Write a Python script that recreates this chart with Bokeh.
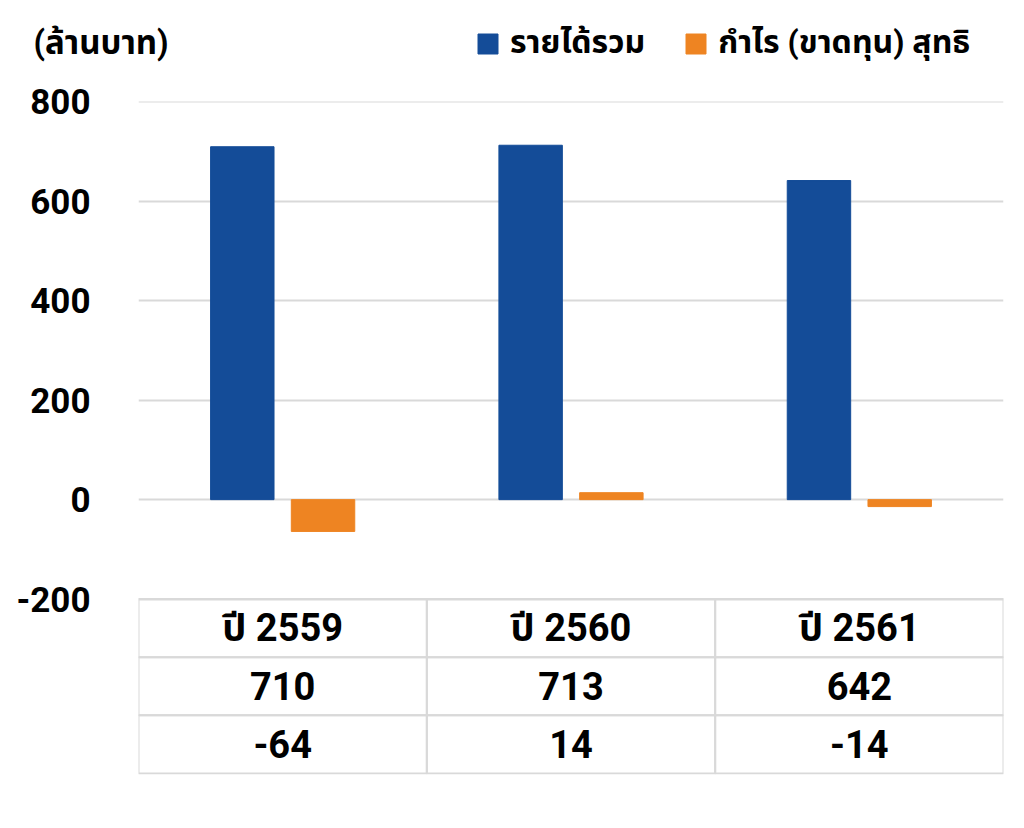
from bokeh.plotting import figure
from bokeh.models import (FactorRange, Range1d, FixedTicker, Legend, LegendItem,
                          Label, ColumnDataSource)
from bokeh.layouts import column
from bokeh.transform import dodge
from bokeh.core.properties import value
from bokeh.embed import file_html
from bokeh.resources import INLINE

# ---- data ----
years = ["ปี 2559", "ปี 2560", "ปี 2561"]
revenue = [710, 713, 642]
net_profit = [-64, 14, -14]
revenue_text = ["710", "713", "642"]
profit_text = ["-64", "14", "-14"]
y_ticks = [-200, 0, 200, 400, 600, 800]
y_tick_labels = ["-200", "0", "200", "400", "600", "800"]
series_names = ["รายได้รวม", "กำไร (ขาดทุน) สุทธิ"]
unit_label = "(ล้านบาท)"

BLUE = "#144C98"
ORANGE = "#EE8422"
GRID = "#D9D9D9"
FONT = "Roboto, 'Noto Sans Thai', sans-serif"

W = 1015
HEAD_H = 81

# table layout (in y-axis units, the table hangs below the lowest tick)
ROW_H = 117
TABLE_TOP = y_ticks[0]
TABLE_BOTTOM = TABLE_TOP - 3 * ROW_H

src = ColumnDataSource(dict(year=years, rev=revenue, prof=net_profit))

# ---- header: unit caption + legend (own canvas, frame = whole canvas) ----
h = figure(x_range=Range1d(0, W), y_range=Range1d(0, HEAD_H),
           frame_width=W, frame_height=HEAD_H,
           min_border_left=0, min_border_right=0, min_border_top=0, min_border_bottom=0,
           x_axis_location=None, y_axis_location=None, frame_align=False,
           output_backend="svg", toolbar_location=None)
h.grid.visible = False
h.outline_line_color = None
l1 = h.vbar(x="rev", top="rev", width=1, source=src, fill_color=BLUE, line_color=BLUE,
            visible=False)
l2 = h.vbar(x="rev", top="rev", width=1, source=src, fill_color=ORANGE, line_color=ORANGE,
            visible=False)
legend = Legend(items=[LegendItem(label=series_names[0], renderers=[l1]),
                       LegendItem(label=series_names[1], renderers=[l2])],
                orientation="horizontal", location=(475, 14),
                glyph_width=25, glyph_height=25, label_standoff=10, spacing=38,
                padding=0, margin=0, border_line_color=None, background_fill_alpha=0,
                inactive_fill_alpha=0,
                label_text_font=FONT, label_text_font_size="32px",
                label_text_font_style="bold", label_text_color="#000000")
h.add_layout(legend, "center")
h.add_layout(Label(x=33, y=HEAD_H - 42, text=unit_label,
                   text_font=FONT, text_font_size="33px", text_font_style="bold",
                   text_baseline="middle", text_align="left", text_color="#000000"))

# ---- main chart with data table below ----
xr = FactorRange(*years)
p = figure(x_range=xr, y_range=Range1d(TABLE_BOTTOM - 2, y_ticks[-1] + 1),
           frame_width=865, frame_height=673,
           min_border_left=138, min_border_right=12, min_border_top=20, min_border_bottom=20,
           x_axis_location=None, frame_align=False,
           output_backend="svg", toolbar_location=None)

r1 = p.vbar(x=dodge("year", -0.14, range=xr), top="rev", bottom=0, width=0.22,
            source=src, fill_color=BLUE, line_color=BLUE)
r2 = p.vbar(x=dodge("year", 0.14, range=xr), top="prof", bottom=0, width=0.22,
            source=src, fill_color=ORANGE, line_color=ORANGE)

p.yaxis.ticker = FixedTicker(ticks=y_ticks)
p.yaxis.major_label_overrides = dict(zip(y_ticks, y_tick_labels))
p.yaxis.axis_line_color = None
p.yaxis.major_tick_line_color = None
p.yaxis.minor_tick_line_color = None
p.yaxis.major_tick_out = 0
p.yaxis.major_tick_in = 0
p.yaxis.minor_tick_out = 0
p.yaxis.major_label_standoff = 48
p.yaxis.major_label_text_font = "Roboto"
p.yaxis.major_label_text_font_size = "35px"
p.yaxis.major_label_text_font_style = "bold"
p.yaxis.major_label_text_color = "#000000"
p.ygrid.grid_line_color = GRID
p.ygrid.grid_line_width = 2
p.xgrid.grid_line_color = None
p.outline_line_color = None

row_values = [years, revenue_text, profit_text]
cx, cy, ct = [], [], []
for k, row in enumerate(row_values):
    for i, yr in enumerate(years):
        cx.append(yr)
        cy.append(TABLE_TOP - ROW_H * (k + 0.5))
        ct.append(row[i])
tsrc = ColumnDataSource(dict(x=cx, y=cy, t=ct))
p.rect(x="x", y="y", width=1, height=ROW_H, source=tsrc, fill_color=None,
       line_color=GRID, line_width=2)
p.text(x="x", y="y", text="t", source=tsrc, text_align="center", text_baseline="middle",
       text_font=value(FONT), text_font_size="38px",
       text_font_style="bold", text_color="#000000")

layout = column(h, p, spacing=0)
open("out.html", "w").write(file_html(layout, INLINE))
